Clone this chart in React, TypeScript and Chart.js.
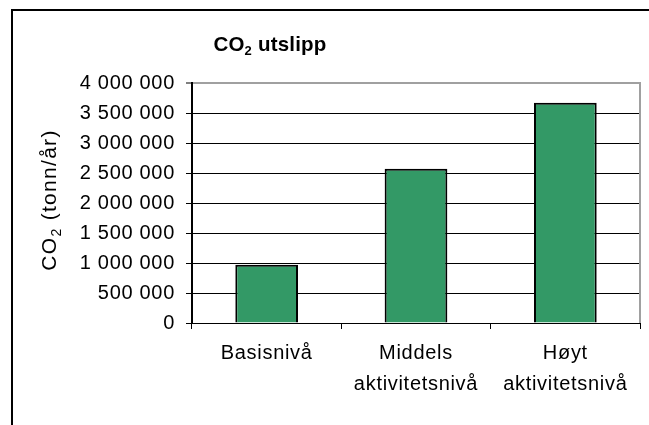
import React, { useEffect, useRef } from "react";
import { Chart, registerables } from "chart.js";

Chart.register(...registerables);

const categories: (string | string[])[] = [
  "Basisnivå",
  ["Middels", "aktivitetsnivå"],
  ["Høyt", "aktivitetsnivå"],
];
const emissions = [970000, 2570000, 3670000];
const yMin = 0;
const yMax = 4000000;
const yStep = 500000;
const titleParts = ["CO", "2", " utslipp"];
const yTitleParts = ["CO", "2", " (tonn/år)"];

const FONT = '"Liberation Sans", Arial, sans-serif';

function fmt(v: number) {
  return String(v).replace(/\B(?=(\d{3})+(?!\d))/g, " ");
}

function drawSubText(ctx: any, parts: string[], size: number, subSize: number, bold: boolean, subShift: number) {
  const w = bold ? "bold " : "";
  ctx.font = `${w}${size}px ${FONT}`;
  const w0 = ctx.measureText(parts[0]).width;
  const w2 = ctx.measureText(parts[2]).width;
  ctx.font = `${w}${subSize}px ${FONT}`;
  const w1 = ctx.measureText(parts[1]).width;
  const total = w0 + w1 + w2;
  let x = -total / 2;
  ctx.textAlign = "left";
  ctx.textBaseline = "alphabetic";
  ctx.font = `${w}${size}px ${FONT}`;
  ctx.fillText(parts[0], x, 0);
  x += w0;
  ctx.font = `${w}${subSize}px ${FONT}`;
  ctx.fillText(parts[1], x, subShift);
  x += w1;
  ctx.font = `${w}${size}px ${FONT}`;
  ctx.fillText(parts[2], x, 0);
}

const decorPlugin = {
  id: "decor",
  beforeDraw(chart: any) {
    const ctx = chart.ctx;
    ctx.letterSpacing = "0.7px";
    ctx.save();
    ctx.fillStyle = "#000";
    ctx.fillRect(11, 9, 640, 2);
    ctx.fillRect(11, 9, 2, 420);
    // title
    ctx.save();
    ctx.translate(270, 51);
    ctx.letterSpacing = "0.2px";
    drawSubText(ctx, titleParts, 20.5, 13, true, 4);
    ctx.restore();
    // y axis title
    ctx.save();
    ctx.translate(56, 200);
    ctx.rotate(-Math.PI / 2);
    ctx.letterSpacing = "1.3px";
    drawSubText(ctx, yTitleParts, 21, 14, false, 5);
    ctx.restore();
    ctx.restore();
  },
  afterDraw(chart: any) {
    const ctx = chart.ctx;
    const a = chart.chartArea;
    ctx.save();
    ctx.strokeStyle = "#a0a0a0";
    ctx.lineWidth = 2;
    ctx.beginPath();
    ctx.moveTo(a.right, a.top - 1);
    ctx.lineTo(a.right, a.bottom);
    ctx.stroke();
    ctx.restore();
  },
};

export default function App() {
  const ref = useRef<HTMLCanvasElement | null>(null);
  useEffect(() => {
    if (!ref.current) return;
    const chart = new Chart(ref.current, {
      type: "bar",
      data: {
        labels: categories as any,
        datasets: [
          {
            data: emissions,
            backgroundColor: "#339966",
            borderColor: "#000000",
            borderWidth: 2,
            barPercentage: 1,
            categoryPercentage: 0.42,
          },
        ],
      },
      options: {
        responsive: false,
        animation: false,
        layout: { padding: { top: 83, right: 9, left: 0, bottom: 0 } },
        plugins: {
          legend: { display: false },
          title: { display: false },
          tooltip: { enabled: false },
        },
        scales: {
          x: {
            afterFit: (s: any) => {
              s.height = 102;
            },
            grid: {
              display: true,
              offset: true,
              drawOnChartArea: false,
              drawTicks: true,
              tickLength: 6,
              color: "#000",
            },
            border: { display: true, color: "#000", width: 1 },
            ticks: {
              color: "#000",
              padding: 8.5,
              maxRotation: 0,
              autoSkip: false,
              font: { family: FONT, size: 20, lineHeight: "31px" as any },
            },
          },
          y: {
            min: yMin,
            max: yMax,
            afterFit: (s: any) => {
              s.width = 192;
            },
            grid: {
              color: (c: any) => (c.tick && c.tick.value === yMax ? "#a0a0a0" : "#000"),
              lineWidth: (c: any) => (c.tick && c.tick.value === yMax ? 2 : 1),
              tickColor: "#000",
              tickWidth: 1,
              tickLength: 6,
              drawTicks: true,
            },
            border: { display: true, color: "#000", width: 2 },
            ticks: {
              stepSize: yStep,
              color: "#000",
              padding: 11,
              font: { family: FONT, size: 20 },
              callback: (v: any) => fmt(Number(v)),
            },
          },
        },
      },
      plugins: [decorPlugin],
    });
    return () => chart.destroy();
  }, []);
  return (
    <div style={{ position: "absolute", left: 0, top: 0, width: 649, height: 425 }}>
      <canvas ref={ref} width={649} height={425} style={{ width: 649, height: 425, display: "block" }} />
    </div>
  );
}
